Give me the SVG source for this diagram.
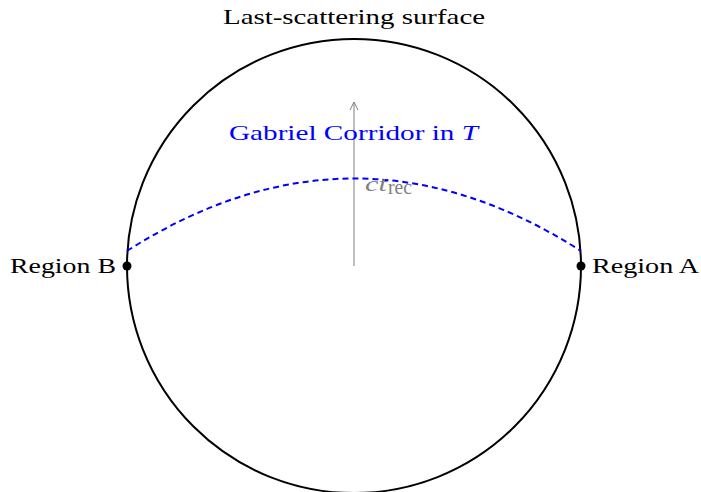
<svg xmlns="http://www.w3.org/2000/svg" width="701" height="492" viewBox="0 0 701 492">
<style>
text{font-family:"Liberation Serif","DejaVu Serif",serif;font-size:22px;}
</style>
<defs>
<marker id="ah" viewBox="0 0 10 10" refX="9" refY="5" markerWidth="10" markerHeight="10" markerUnits="userSpaceOnUse" orient="auto">
<path d="M1,1 L9,5 L1,9" fill="none" stroke="#808080" stroke-width="1"/>
</marker>
</defs>
<rect width="701" height="492" fill="#fff"/>
<g id="surface">
<circle cx="354" cy="266" r="227" fill="none" stroke="#000" stroke-width="2"/>
<text x="354" y="24" text-anchor="middle" textLength="262" lengthAdjust="spacingAndGlyphs">Last-scattering surface</text>
</g>
<g id="connectors">
<line x1="354" y1="266" x2="354" y2="102" stroke="#808080" stroke-width="1" marker-end="url(#ah)"/>
<path d="M127,251 Q354,106 581,251" fill="none" stroke="#0000ff" stroke-width="2" stroke-dasharray="6,4"/>
</g>
<g id="corridor-label">
<text x="229" y="140" fill="#0000ff" textLength="249" lengthAdjust="spacingAndGlyphs">Gabriel Corridor in <tspan font-style="italic">T</tspan></text>
</g>
<g id="ctrec">
<text x="365" y="191" fill="#808080" font-style="italic" font-size="24" textLength="22" lengthAdjust="spacingAndGlyphs">ct</text>
<text x="388" y="194" fill="#808080" font-size="16" textLength="24" lengthAdjust="spacingAndGlyphs">rec</text>
</g>
<g id="regionB">
<circle cx="127" cy="266" r="4.5" fill="#000"/>
<text x="10" y="273" textLength="106" lengthAdjust="spacingAndGlyphs">Region B</text>
</g>
<g id="regionA">
<circle cx="581" cy="266" r="4.5" fill="#000"/>
<text x="592" y="273" textLength="107" lengthAdjust="spacingAndGlyphs">Region A</text>
</g>
</svg>
